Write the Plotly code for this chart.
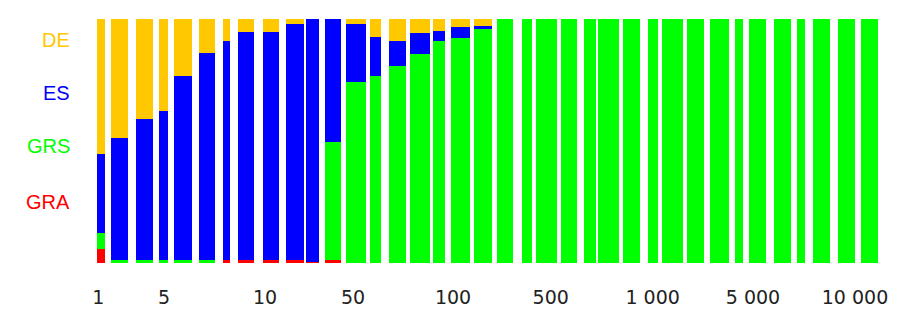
import plotly.graph_objects as go

# Bar extents along the x axis (start, end) in axis units
bar_start = [1, 15, 39.5, 62.5, 77.5, 102.5, 126.5, 141.5, 166.5, 189.5, 210, 228.5,
             249.5, 274, 292.5, 313.5, 336.5, 354.5, 377.5, 400.5, 425.5, 439.5, 464.5,
             487.5, 502, 526.5, 551.5, 566, 590.5, 613.5, 638.5, 653, 677.5, 700.5,
             717, 742, 764.5]
bar_end = [9, 31.5, 56.5, 71.5, 95.5, 118.5, 133.5, 158, 183, 207.5, 222.5, 245,
           269.5, 284.5, 309.5, 334, 348.5, 373.5, 396, 417, 435.5, 460.5, 481,
           499.5, 522.5, 543.5, 561.5, 586.5, 607.5, 632.5, 646.5, 670, 694.5, 709,
           733.5, 758.5, 781.5]

# Shares (%) per series
GRA = [5.7, 0, 0, 0, 0, 0, 1.2, 1.2, 1.2, 1.2, 0.6, 1.2, 0, 0, 0, 0, 0, 0, 0,
       0, 0, 0, 0, 0, 0, 0, 0, 0, 0, 0, 0, 0, 0, 0, 0, 0, 0]
GRS = [6.6, 1.2, 1.2, 1.2, 1.2, 1.2, 0, 0, 0, 0, 0, 48.4, 74.0, 76.6, 80.8, 85.7, 90.8, 92.4, 95.9,
       100, 100, 100, 100, 100, 100, 100, 100, 100, 100, 100, 100, 100, 100, 100, 100, 100, 100]
ES = [32.5, 50.2, 57.8, 61.1, 75.4, 84.7, 89.6, 93.3, 93.3, 96.6, 99.4, 50.4, 23.8, 16.0, 10.2, 8.6, 4.3, 4.3, 1.2,
      0, 0, 0, 0, 0, 0, 0, 0, 0, 0, 0, 0, 0, 0, 0, 0, 0, 0]
DE = [55.2, 48.6, 41.0, 37.7, 23.4, 14.1, 9.2, 5.5, 5.5, 2.2, 0, 0, 2.2, 7.4, 9.0, 5.7, 4.9, 3.3, 2.9,
      0, 0, 0, 0, 0, 0, 0, 0, 0, 0, 0, 0, 0, 0, 0, 0, 0, 0]

tick_vals = [2.3, 68, 169, 257, 357, 454.7, 556.7, 657, 759]
tick_text = ["1", "5", "10", "50", "100", "500", "1 000", "5 000", "10 000"]

series = [("GRA", GRA, "#FF0000"), ("GRS", GRS, "#00FF00"),
          ("ES", ES, "#0000FF"), ("DE", DE, "#FFC800")]
label_y = {"DE": 91.5, "ES": 69.7, "GRS": 48.1, "GRA": 25.0}

centers = [(a + b) / 2 for a, b in zip(bar_start, bar_end)]
widths = [b - a for a, b in zip(bar_start, bar_end)]

fig = go.Figure()
for name, vals, col in series:
    fig.add_trace(go.Bar(x=centers, y=vals, width=widths, name=name,
                         marker=dict(color=col, line=dict(width=0)),
                         showlegend=False))

annotations = []
for name, vals, col in series:
    annotations.append(dict(text=name, xref="paper", yref="y", x=-0.031, y=label_y[name],
                            xanchor="right", yanchor="middle", showarrow=False,
                            font=dict(family="Liberation Sans, Arial", size=20, color=col)))

fig.update_layout(
    width=906, height=313,
    margin=dict(l=88, r=36, t=11, b=58),
    barmode="stack",
    plot_bgcolor="white", paper_bgcolor="white",
    xaxis=dict(range=[0, 782], tickmode="array", tickvals=tick_vals, ticktext=tick_text,
               showgrid=False, zeroline=False, showline=False, ticks="",
               ticklabelstandoff=21,
               tickfont=dict(family="DejaVu Sans", size=19, color="#222222")),
    yaxis=dict(range=[0, 100], visible=False),
    annotations=annotations,
)

fig.write_html("out.html")
